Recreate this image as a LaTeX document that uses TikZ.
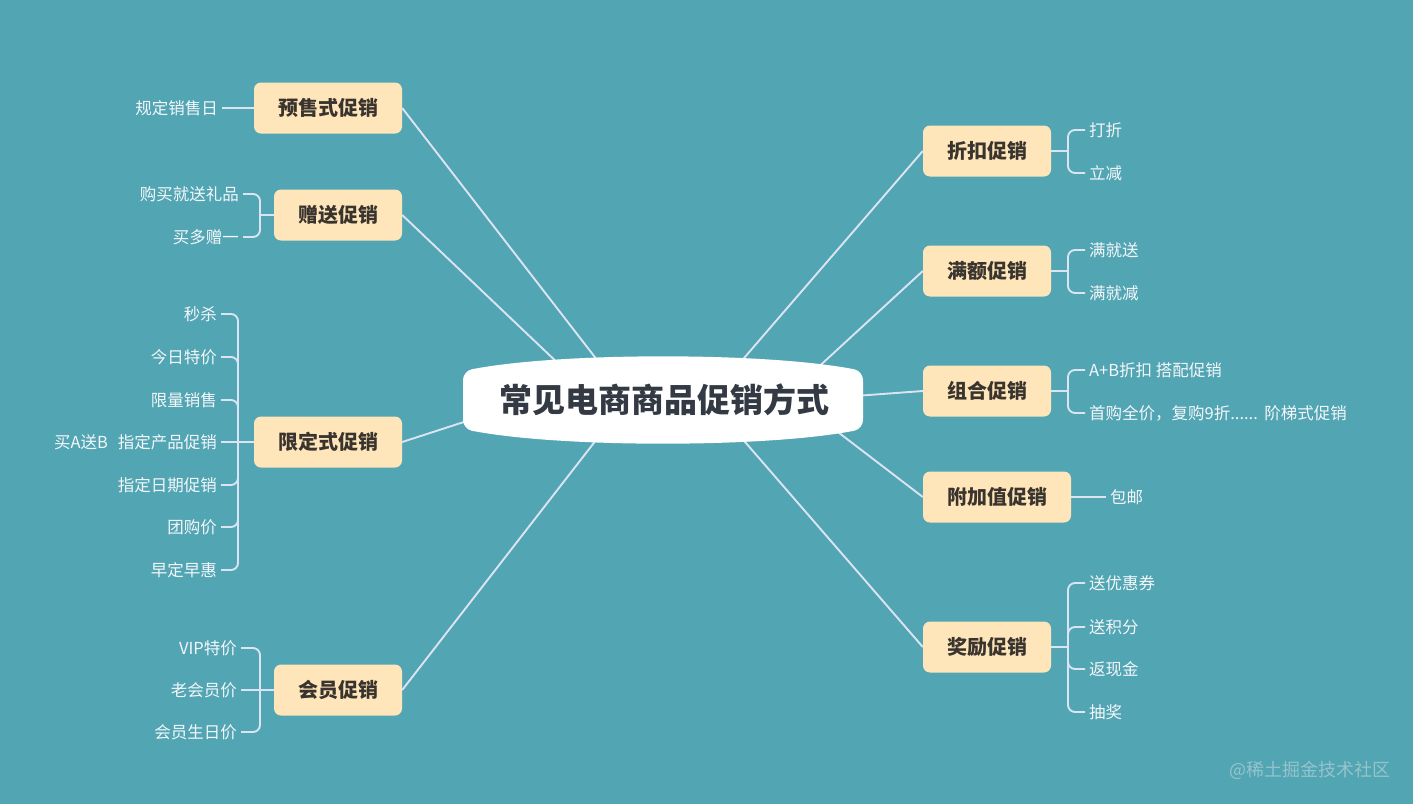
\documentclass[tikz,border=0pt]{standalone}
\usepackage{fontspec}
\setmainfont{Noto Sans CJK SC}
\definecolor{bg}{RGB}{82,165,179}
\definecolor{catfill}{RGB}{255,229,186}
\definecolor{cattext}{RGB}{58,52,46}
\definecolor{roottext}{RGB}{52,58,68}
\definecolor{linec}{RGB}{220,228,242}
\definecolor{leaftext}{RGB}{244,247,250}
\definecolor{wmc}{RGB}{150,196,204}
\begin{document}
\begin{tikzpicture}[x=1pt,y=-1pt,
  cat/.style={fill=catfill, rounded corners=7pt, minimum height=51pt, inner xsep=24pt, inner ysep=0pt,
    font=\fontsize{20}{24}\selectfont\bfseries, text=cattext},
  leafl/.style={anchor=east, inner xsep=4pt, inner ysep=1pt, font=\fontsize{16.5}{20}\selectfont, text=leaftext},
  leafr/.style={anchor=west, inner xsep=4pt, inner ysep=1pt, font=\fontsize{16.5}{20}\selectfont, text=leaftext},
  conn/.style={draw=linec, line width=1.9pt},
  br/.style={draw=linec, line width=1.9pt, rounded corners=7pt}]
\fill[bg] (0,0) rectangle (1413,804);
\useasboundingbox (0,0) rectangle (1413,804);

% category nodes
\node[cat] (pre) at (328,108) {预售式促销};
\node[cat] (gift) at (338,215) {赠送促销};
\node[cat] (lim) at (328,442) {限定式促销};
\node[cat] (mem) at (338,690) {会员促销};
\node[cat] (disc) at (987,151) {折扣促销};
\node[cat] (full) at (987,271) {满额促销};
\node[cat] (combo) at (987,391) {组合促销};
\node[cat] (addv) at (997,497) {附加值促销};
\node[cat] (rew) at (987,647) {奖励促销};

% coordinates on the root shape
\coordinate (rpre) at (601,365);
\coordinate (rgift) at (563,368);
\coordinate (rlim) at (470,420);
\coordinate (rmem) at (600,435);
\coordinate (rdisc) at (738,365);
\coordinate (rfull) at (813,372);
\coordinate (rcombo) at (855,396);
\coordinate (raddv) at (830,426);
\coordinate (rrew) at (739,435);

\draw[conn] (pre.east) -- (rpre);
\draw[conn] (gift.east) -- (rgift);
\draw[conn] (lim.east) -- (rlim);
\draw[conn] (mem.east) -- (rmem);
\draw[conn] (disc.west) -- (rdisc);
\draw[conn] (full.west) -- (rfull);
\draw[conn] (combo.west) -- (rcombo);
\draw[conn] (addv.west) -- (raddv);
\draw[conn] (rew.west) -- (rrew);

% root
\fill[white, rounded corners=9pt] (463,400) -- (463,371) .. controls (560,352) and (766,352) .. (863,371)
  -- (863,429) .. controls (766,448) and (560,448) .. (463,429) -- cycle;
\node[font=\fontsize{33}{38}\selectfont\bfseries, text=roottext] (root) at (664,400) {常见电商商品促销方式};

% 预售式
\node[leafl] (p1) at (222,108) {规定销售日};
\draw[conn] (p1.east) -- (pre.west);

% 赠送
\coordinate (gj) at (260,215);
\node[leafl] (g1) at (243,194) {购买就送礼品};
\node[leafl] (g2) at (243,237) {买多赠一};
\draw[conn] (gj) -- (gift.west);
\foreach \n in {g1,g2} \draw[br] (\n.east) -| (gj);

% 限定式
\coordinate (lj) at (238,442);
\node[leafl] (l1) at (221,314) {秒杀};
\node[leafl] (l2) at (221,357) {今日特价};
\node[leafl] (l3) at (221,400) {限量销售};
\node[leafl] (l4) at (221,442) {买A送B\hspace{0.6em}指定产品促销};
\node[leafl] (l5) at (221,485) {指定日期促销};
\node[leafl] (l6) at (221,527) {团购价};
\node[leafl] (l7) at (221,570) {早定早惠};
\draw[conn] (lj) -- (lim.west);
\foreach \n in {l1,l2,l3,l5,l6,l7} \draw[br] (\n.east) -| (lj);
\draw[conn] (l4.east) -- (lj);

% 会员
\coordinate (mj) at (260,690);
\node[leafl] (m1) at (241,648) {VIP特价};
\node[leafl] (m2) at (241,690) {老会员价};
\node[leafl] (m3) at (241,732) {会员生日价};
\draw[conn] (mj) -- (mem.west);
\foreach \n in {m1,m3} \draw[br] (\n.east) -| (mj);
\draw[conn] (m2.east) -- (mj);

% 折扣
\coordinate (dj) at (1068,151);
\node[leafr] (d1) at (1085,130) {打折};
\node[leafr] (d2) at (1085,173) {立减};
\draw[conn] (disc.east) -- (dj);
\foreach \n in {d1,d2} \draw[br] (\n.west) -| (dj);

% 满额
\coordinate (fj) at (1068,271);
\node[leafr] (f1) at (1085,250) {满就送};
\node[leafr] (f2) at (1085,293) {满就减};
\draw[conn] (full.east) -- (fj);
\foreach \n in {f1,f2} \draw[br] (\n.west) -| (fj);

% 组合
\coordinate (cj) at (1068,391);
\node[leafr] (c1) at (1085,370) {A+B折扣 搭配促销};
\node[leafr] (c2) at (1085,413) {首购全价，复购9折......\hspace{0.4em}阶梯式促销};
\draw[conn] (combo.east) -- (cj);
\foreach \n in {c1,c2} \draw[br] (\n.west) -| (cj);

% 附加值
\node[leafr] (a1) at (1106,497) {包邮};
\draw[conn] (addv.east) -- (a1.west);

% 奖励
\coordinate (wj) at (1068,647);
\node[leafr] (w1) at (1085,583) {送优惠券};
\node[leafr] (w2) at (1085,627) {送积分};
\node[leafr] (w3) at (1085,669) {返现金};
\node[leafr] (w4) at (1085,712) {抽奖};
\draw[conn] (rew.east) -- (wj);
\foreach \n in {w1,w2,w3,w4} \draw[br] (\n.west) -| (wj);

% watermark
\node[font=\fontsize{18}{20}\selectfont, text=wmc] (wm) at (1310,770) {@稀土掘金技术社区};
\end{tikzpicture}
\end{document}
